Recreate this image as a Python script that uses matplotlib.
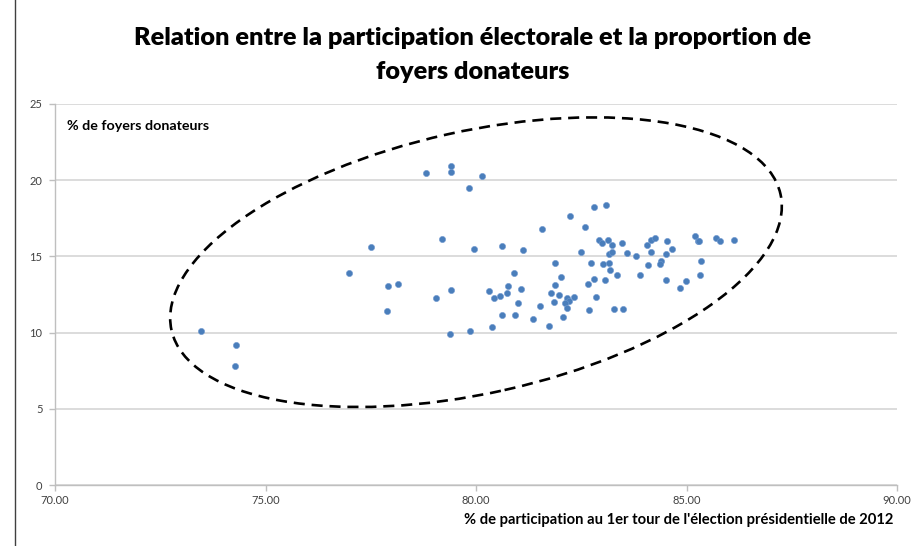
import numpy as np
import matplotlib
matplotlib.use("Agg")
import matplotlib.pyplot as plt
from matplotlib.patches import Ellipse
from matplotlib.lines import Line2D
import matplotlib.transforms as mtransforms

# --- data -------------------------------------------------------------
participation = [
    73.47, 74.29, 74.27, 76.98, 77.50, 77.92, 78.15, 77.89, 78.81, 79.40,
    79.41, 80.14, 79.83, 79.19, 79.95, 79.06, 79.41, 79.39, 79.86, 80.62,
    81.11, 81.57, 80.91, 80.32, 80.42, 80.58, 80.74, 80.77, 81.08, 81.00,
    80.61, 80.93, 80.38, 81.35, 81.51, 81.73, 81.88, 82.01, 81.88, 81.79,
    81.97, 81.85, 82.15, 82.22, 82.11, 82.17, 82.06, 82.33, 82.24, 82.80,
    83.09, 82.60, 82.49, 82.93, 83.00, 83.13, 83.23, 83.46, 83.16, 83.24,
    83.58, 83.80, 82.72, 83.02, 83.16, 83.18, 83.35, 82.81, 82.66, 83.06,
    82.85, 82.69, 83.27, 83.49, 84.07, 84.15, 84.24, 84.53, 84.16, 84.51,
    84.65, 84.09, 84.39, 84.38, 83.90, 84.51, 84.99, 84.84, 85.21, 85.27,
    85.30, 85.35, 85.33, 85.70, 85.80, 86.14,
]
donateurs = [
    10.08, 9.18, 7.80, 13.92, 15.63, 13.05, 13.18, 11.43, 20.50, 20.90,
    20.57, 20.28, 19.52, 16.11, 15.46, 12.28, 12.77, 9.88, 10.08, 15.67,
    15.39, 16.81, 13.92, 12.72, 12.26, 12.39, 12.57, 13.05, 12.87, 11.97,
    11.13, 11.13, 10.37, 10.87, 11.74, 10.45, 14.54, 13.64, 13.13, 12.62,
    12.44, 12.00, 12.24, 12.09, 11.97, 11.61, 11.05, 12.36, 17.63, 18.21,
    18.34, 16.92, 15.28, 16.07, 15.89, 16.07, 15.78, 15.89, 15.18, 15.26,
    15.23, 15.04, 14.54, 14.51, 14.58, 14.10, 13.78, 13.50, 13.18, 13.46,
    12.36, 11.48, 11.55, 11.55, 15.74, 16.05, 16.24, 16.02, 15.28, 15.15,
    15.46, 14.43, 14.67, 14.51, 13.75, 13.44, 13.38, 12.90, 16.35, 16.02,
    16.00, 14.67, 13.77, 16.20, 15.98, 16.09,
]
x_ticks = [70, 75, 80, 85, 90]
x_ticklabels = ["70.00", "75.00", "80.00", "85.00", "90.00"]
y_ticks = [0, 5, 10, 15, 20, 25]

title = "Relation entre la participation électorale et la proportion de\nfoyers donateurs"
ylabel = "% de foyers donateurs"
xlabel = "% de participation au 1er tour de l'élection présidentielle de 2012"

# --- figure -----------------------------------------------------------
W, H = 918, 546
fig = plt.figure(figsize=(W / 100, H / 100), dpi=100)
plt.rcParams['font.family'] = ['Lato', 'DejaVu Sans']

L, R, T, B = 55, 897, 104, 485
ax = fig.add_axes([L / W, 1 - B / H, (R - L) / W, (B - T) / H])
ax.set_xlim(70, 90)
ax.set_ylim(0, 25)

ax.set_yticks(y_ticks)
ax.yaxis.grid(True, color="#d9d9d9", linewidth=1.3)
ax.set_axisbelow(True)
ax.set_xticks(x_ticks)
ax.set_xticklabels(x_ticklabels)
for s in ["top", "right"]:
    ax.spines[s].set_visible(False)
for s in ["left", "bottom"]:
    ax.spines[s].set_color("#bfbfbf")
    ax.spines[s].set_linewidth(1.0)
ax.tick_params(axis="both", colors="#bfbfbf", labelcolor="#404040",
               labelsize=8, length=4, width=1, direction="out")
ax.tick_params(axis="x", pad=3)
ax.tick_params(axis="y", pad=5)

ax.scatter(participation, donateurs, s=20, color="#4a7ebb",
           edgecolors="#6f98cf", linewidths=0.4, zorder=3)

# dashed ellipse annotation (defined in pixel units around a data center)
sx = (R - L) / 20.0
sy = (B - T) / 25.0
ell_center = (80.0, 14.62)
ell_a, ell_b, ell_angle = 312, 131, 12.6
tr = mtransforms.Affine2D().scale(1 / sx, 1 / sy).translate(*ell_center) + ax.transData
ell = Ellipse((0, 0), 2 * ell_a, 2 * ell_b, angle=ell_angle, fill=False,
              edgecolor="black", linewidth=1.9, linestyle=(0, (4.2, 2.6)),
              transform=tr, zorder=4)
ax.add_patch(ell)

# texts
fig.text(473 / W, 1 - 55 / H, title, ha="center", va="center",
         fontsize=18.2, fontweight="heavy", color="black", linespacing=1.62)
fig.text(67 / W, 1 - 126 / H, ylabel, ha="left", va="center",
         fontsize=10.3, fontweight="bold", color="black")
fig.text(893 / W, 1 - 520 / H, xlabel, ha="right", va="center",
         fontsize=10.6, fontweight="bold", color="black")

# frame line at left edge of screenshot
fig.add_artist(Line2D([15 / W, 15 / W], [0, 1], color="#404040", linewidth=1.0))

fig.savefig("out.png", dpi=100)
